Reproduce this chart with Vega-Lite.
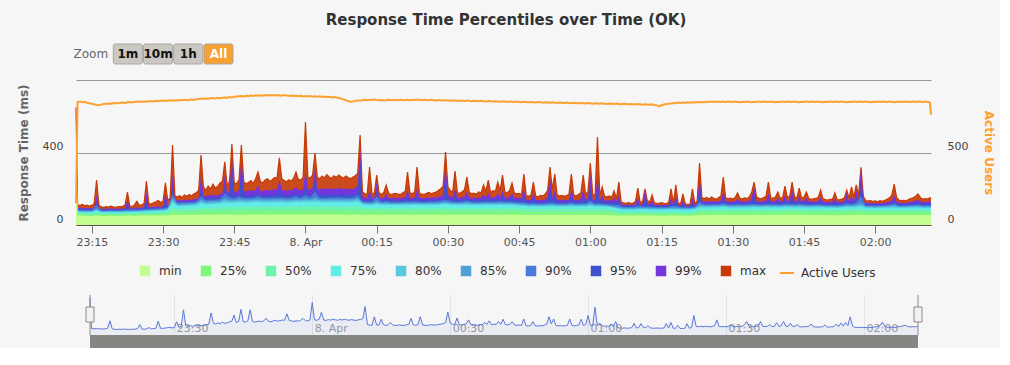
{
"$schema":"https://vega.github.io/schema/vega-lite/v6.json",
"background":"#f6f6f6",
"padding":{"left":17,"top":12,"right":5,"bottom":0},
"spacing":15,
"resolve":{"scale":{"fill":"independent","stroke":"independent"},"legend":{"fill":"independent","stroke":"independent"}},
"title":{"text":"Response Time Percentiles over Time (OK)","fontSize":15,"fontWeight":"bold","color":"#333333","anchor":"middle","offset":16,"font":"DejaVu Sans"},
"config":{"font":"DejaVu Sans","view":{"stroke":null},"axis":{"labelFont":"DejaVu Sans","titleFont":"DejaVu Sans"},"legend":{"labelFont":"DejaVu Sans"}},
"data":{"values":"t,p95,p99,max,u\n2019-04-07T23:11:40,615,640,650,150\n2019-04-07T23:12:00,90,95,112,848\n2019-04-07T23:12:30,88,94,108,851\n2019-04-07T23:13:00,89,95,114,846\n2019-04-07T23:13:30,87,93,106,849\n2019-04-07T23:14:00,88,94,110,843\n2019-04-07T23:14:30,86,92,104,840\n2019-04-07T23:15:00,87,93,108,836\n2019-04-07T23:15:30,90,97,118,832\n2019-04-07T23:16:00,130,166,248,828\n2019-04-07T23:16:30,88,94,108,826\n2019-04-07T23:17:00,85,90,100,830\n2019-04-07T23:17:30,84,89,98,834\n2019-04-07T23:18:00,85,90,101,836\n2019-04-07T23:18:30,84,89,99,838\n2019-04-07T23:19:00,86,92,104,836\n2019-04-07T23:19:30,85,90,100,840\n2019-04-07T23:20:00,84,89,98,842\n2019-04-07T23:20:30,85,90,102,839\n2019-04-07T23:21:00,86,91,100,843\n2019-04-07T23:21:30,85,90,103,845\n2019-04-07T23:22:00,88,94,110,842\n2019-04-07T23:22:30,105,138,182,846\n2019-04-07T23:23:00,87,92,104,848\n2019-04-07T23:23:30,86,91,101,845\n2019-04-07T23:24:00,88,94,112,849\n2019-04-07T23:24:30,90,98,130,851\n2019-04-07T23:25:00,88,94,108,848\n2019-04-07T23:25:30,89,95,112,852\n2019-04-07T23:26:00,91,98,118,850\n2019-04-07T23:26:30,130,182,243,853\n2019-04-07T23:27:00,92,99,118,851\n2019-04-07T23:27:30,91,98,116,855\n2019-04-07T23:28:00,93,100,122,852\n2019-04-07T23:28:30,94,101,128,856\n2019-04-07T23:29:00,95,103,135,854\n2019-04-07T23:29:30,93,100,124,858\n2019-04-07T23:30:00,96,104,130,856\n2019-04-07T23:30:30,135,177,232,859\n2019-04-07T23:31:00,98,106,134,857\n2019-04-07T23:31:30,105,118,150,860\n2019-04-07T23:32:00,200,276,441,858\n2019-04-07T23:32:30,128,137,160,861\n2019-04-07T23:33:00,127,136,155,859\n2019-04-07T23:33:30,129,138,162,862\n2019-04-07T23:34:00,126,135,152,860\n2019-04-07T23:34:30,130,139,165,863\n2019-04-07T23:35:00,128,137,158,861\n2019-04-07T23:35:30,131,140,168,864\n2019-04-07T23:36:00,129,138,160,866\n2019-04-07T23:36:30,133,142,172,863\n2019-04-07T23:37:00,134,144,178,867\n2019-04-07T23:37:30,138,150,190,869\n2019-04-07T23:38:00,200,276,386,872\n2019-04-07T23:38:30,148,162,210,870\n2019-04-07T23:39:00,145,158,192,873\n2019-04-07T23:39:30,150,165,215,871\n2019-04-07T23:40:00,147,161,198,874\n2019-04-07T23:40:30,152,168,225,876\n2019-04-07T23:41:00,149,163,205,873\n2019-04-07T23:41:30,151,166,212,877\n2019-04-07T23:42:00,154,170,232,875\n2019-04-07T23:42:30,155,175,240,878\n2019-04-07T23:43:00,210,276,348,880\n2019-04-07T23:43:30,156,172,218,878\n2019-04-07T23:44:00,165,190,240,882\n2019-04-07T23:44:30,300,375,447,880\n2019-04-07T23:45:00,162,185,232,884\n2019-04-07T23:45:30,160,182,228,886\n2019-04-07T23:46:00,165,195,250,888\n2019-04-07T23:46:30,290,364,441,890\n2019-04-07T23:47:00,163,190,238,887\n2019-04-07T23:47:30,160,186,228,891\n2019-04-07T23:48:00,162,188,235,889\n2019-04-07T23:48:30,164,192,245,893\n2019-04-07T23:49:00,161,187,230,890\n2019-04-07T23:49:30,165,195,255,894\n2019-04-07T23:50:00,170,220,292,892\n2019-04-07T23:50:30,163,190,240,895\n2019-04-07T23:51:00,161,186,232,891\n2019-04-07T23:51:30,164,192,248,896\n2019-04-07T23:52:00,166,195,255,893\n2019-04-07T23:52:30,163,190,242,897\n2019-04-07T23:53:00,165,193,250,894\n2019-04-07T23:53:30,168,198,262,896\n2019-04-07T23:54:00,166,196,258,893\n2019-04-07T23:54:30,200,248,370,895\n2019-04-07T23:55:00,167,197,255,892\n2019-04-07T23:55:30,164,192,245,896\n2019-04-07T23:56:00,162,188,238,894\n2019-04-07T23:56:30,165,194,250,890\n2019-04-07T23:57:00,163,190,242,893\n2019-04-07T23:57:30,166,196,258,889\n2019-04-07T23:58:00,175,210,292,892\n2019-04-07T23:58:30,165,194,252,888\n2019-04-07T23:59:00,164,192,248,891\n2019-04-07T23:59:30,167,198,262,887\n2019-04-08T00:00:00,220,300,568,890\n2019-04-08T00:00:30,168,200,265,886\n2019-04-08T00:01:00,166,197,258,889\n2019-04-08T00:01:30,170,205,275,885\n2019-04-08T00:02:00,250,320,397,888\n2019-04-08T00:02:30,168,200,262,884\n2019-04-08T00:03:00,166,196,255,887\n2019-04-08T00:03:30,169,202,270,883\n2019-04-08T00:04:00,167,198,260,886\n2019-04-08T00:04:30,170,204,278,882\n2019-04-08T00:05:00,168,200,265,884\n2019-04-08T00:05:30,166,197,258,880\n2019-04-08T00:06:00,169,203,272,883\n2019-04-08T00:06:30,167,199,262,879\n2019-04-08T00:07:00,170,205,276,876\n2019-04-08T00:07:30,168,201,266,872\n2019-04-08T00:08:00,166,197,258,866\n2019-04-08T00:08:30,169,203,270,860\n2019-04-08T00:09:00,167,200,262,854\n2019-04-08T00:09:30,165,196,255,850\n2019-04-08T00:10:00,168,200,265,852\n2019-04-08T00:10:30,170,204,272,856\n2019-04-08T00:11:00,175,215,285,858\n2019-04-08T00:11:30,350,425,497,859\n2019-04-08T00:12:00,140,155,182,860\n2019-04-08T00:12:30,136,150,172,863\n2019-04-08T00:13:00,135,149,170,861\n2019-04-08T00:13:30,150,190,320,864\n2019-04-08T00:14:00,137,151,176,862\n2019-04-08T00:14:30,136,150,174,865\n2019-04-08T00:15:00,190,237,276,863\n2019-04-08T00:15:30,138,152,178,860\n2019-04-08T00:16:00,135,148,168,862\n2019-04-08T00:16:30,137,151,180,859\n2019-04-08T00:17:00,145,170,221,861\n2019-04-08T00:17:30,136,150,176,864\n2019-04-08T00:18:00,134,147,166,862\n2019-04-08T00:18:30,136,149,172,860\n2019-04-08T00:19:00,135,148,175,863\n2019-04-08T00:19:30,137,151,170,861\n2019-04-08T00:20:00,134,147,168,864\n2019-04-08T00:20:30,136,150,178,862\n2019-04-08T00:21:00,138,153,185,860\n2019-04-08T00:21:30,155,190,292,863\n2019-04-08T00:22:00,137,151,178,861\n2019-04-08T00:22:30,135,149,172,864\n2019-04-08T00:23:00,138,152,182,862\n2019-04-08T00:23:30,160,200,320,865\n2019-04-08T00:24:00,137,150,176,863\n2019-04-08T00:24:30,136,149,170,861\n2019-04-08T00:25:00,134,147,168,864\n2019-04-08T00:25:30,136,150,175,862\n2019-04-08T00:26:00,137,152,180,860\n2019-04-08T00:26:30,135,149,172,863\n2019-04-08T00:27:00,138,153,178,861\n2019-04-08T00:27:30,136,150,182,859\n2019-04-08T00:28:00,139,155,190,862\n2019-04-08T00:28:30,140,158,200,860\n2019-04-08T00:29:00,142,165,215,858\n2019-04-08T00:29:30,260,331,403,861\n2019-04-08T00:30:00,145,168,210,859\n2019-04-08T00:30:30,140,156,190,857\n2019-04-08T00:31:00,138,153,182,860\n2019-04-08T00:31:30,160,200,298,858\n2019-04-08T00:32:00,137,151,178,856\n2019-04-08T00:32:30,136,150,175,859\n2019-04-08T00:33:00,138,153,184,857\n2019-04-08T00:33:30,140,157,195,855\n2019-04-08T00:34:00,150,185,265,858\n2019-04-08T00:34:30,138,152,180,856\n2019-04-08T00:35:00,136,149,172,854\n2019-04-08T00:35:30,137,151,176,857\n2019-04-08T00:36:00,135,148,170,855\n2019-04-08T00:36:30,138,152,182,853\n2019-04-08T00:37:00,137,151,178,856\n2019-04-08T00:37:30,145,170,221,854\n2019-04-08T00:38:00,138,153,185,852\n2019-04-08T00:38:30,150,180,248,855\n2019-04-08T00:39:00,137,151,178,853\n2019-04-08T00:39:30,139,155,190,851\n2019-04-08T00:40:00,138,153,186,854\n2019-04-08T00:40:30,148,175,237,852\n2019-04-08T00:41:00,139,154,188,850\n2019-04-08T00:41:30,155,190,276,853\n2019-04-08T00:42:00,138,152,182,851\n2019-04-08T00:42:30,137,151,178,849\n2019-04-08T00:43:00,139,155,190,852\n2019-04-08T00:43:30,148,175,232,850\n2019-04-08T00:44:00,137,151,176,848\n2019-04-08T00:44:30,136,150,172,851\n2019-04-08T00:45:00,135,149,175,849\n2019-04-08T00:45:30,134,147,168,847\n2019-04-08T00:46:00,160,200,281,850\n2019-04-08T00:46:30,128,140,162,848\n2019-04-08T00:47:00,126,138,158,846\n2019-04-08T00:47:30,127,139,165,849\n2019-04-08T00:48:00,148,175,237,847\n2019-04-08T00:48:30,126,138,160,845\n2019-04-08T00:49:00,125,136,156,848\n2019-04-08T00:49:30,127,139,163,846\n2019-04-08T00:50:00,126,138,160,844\n2019-04-08T00:50:30,128,142,172,847\n2019-04-08T00:51:00,132,150,190,845\n2019-04-08T00:51:30,200,259,320,843\n2019-04-08T00:52:00,135,155,195,846\n2019-04-08T00:52:30,155,190,281,844\n2019-04-08T00:53:00,128,140,166,842\n2019-04-08T00:53:30,126,138,160,845\n2019-04-08T00:54:00,127,139,164,843\n2019-04-08T00:54:30,125,137,158,841\n2019-04-08T00:55:00,126,138,162,844\n2019-04-08T00:55:30,128,141,170,842\n2019-04-08T00:56:00,155,195,281,840\n2019-04-08T00:56:30,127,139,165,843\n2019-04-08T00:57:00,126,137,160,841\n2019-04-08T00:57:30,128,140,168,839\n2019-04-08T00:58:00,130,145,178,842\n2019-04-08T00:58:30,150,190,276,840\n2019-04-08T00:59:00,128,140,166,838\n2019-04-08T00:59:30,130,146,185,841\n2019-04-08T01:00:00,210,276,342,839\n2019-04-08T01:00:30,128,140,168,837\n2019-04-08T01:01:00,127,139,165,840\n2019-04-08T01:01:30,200,265,485,838\n2019-04-08T01:02:00,126,138,162,836\n2019-04-08T01:02:30,135,160,210,839\n2019-04-08T01:03:00,125,137,158,837\n2019-04-08T01:03:30,124,135,155,835\n2019-04-08T01:04:00,126,138,160,838\n2019-04-08T01:04:30,123,134,152,836\n2019-04-08T01:05:00,130,150,188,834\n2019-04-08T01:05:30,120,130,145,837\n2019-04-08T01:06:00,135,165,237,835\n2019-04-08T01:06:30,108,114,126,833\n2019-04-08T01:07:00,106,112,122,836\n2019-04-08T01:07:30,105,111,120,834\n2019-04-08T01:08:00,107,113,124,832\n2019-04-08T01:08:30,105,111,119,835\n2019-04-08T01:09:00,106,112,121,833\n2019-04-08T01:09:30,108,115,130,831\n2019-04-08T01:10:00,125,150,204,834\n2019-04-08T01:10:30,107,113,124,832\n2019-04-08T01:11:00,108,115,130,830\n2019-04-08T01:11:30,150,193,199,833\n2019-04-08T01:12:00,110,118,135,831\n2019-04-08T01:12:30,107,113,125,829\n2019-04-08T01:13:00,118,135,166,832\n2019-04-08T01:13:30,106,112,122,828\n2019-04-08T01:14:00,105,111,120,825\n2019-04-08T01:14:30,104,110,119,820\n2019-04-08T01:15:00,106,112,123,826\n2019-04-08T01:15:30,105,111,120,831\n2019-04-08T01:16:00,104,110,118,834\n2019-04-08T01:16:30,106,112,124,836\n2019-04-08T01:17:00,125,150,199,838\n2019-04-08T01:17:30,105,111,121,840\n2019-04-08T01:18:00,130,160,221,842\n2019-04-08T01:18:30,104,110,120,844\n2019-04-08T01:19:00,103,109,117,842\n2019-04-08T01:19:30,118,135,171,845\n2019-04-08T01:20:00,102,108,116,843\n2019-04-08T01:20:30,101,107,114,846\n2019-04-08T01:21:00,102,108,115,844\n2019-04-08T01:21:30,125,150,199,847\n2019-04-08T01:22:00,104,110,119,845\n2019-04-08T01:22:30,112,120,132,848\n2019-04-08T01:23:00,200,259,342,846\n2019-04-08T01:23:30,122,132,150,849\n2019-04-08T01:24:00,120,130,146,847\n2019-04-08T01:24:30,121,131,152,850\n2019-04-08T01:25:00,119,129,144,848\n2019-04-08T01:25:30,122,133,155,851\n2019-04-08T01:26:00,120,130,148,849\n2019-04-08T01:26:30,118,128,142,852\n2019-04-08T01:27:00,121,131,150,850\n2019-04-08T01:27:30,123,135,160,848\n2019-04-08T01:28:00,145,180,265,851\n2019-04-08T01:28:30,121,131,150,849\n2019-04-08T01:29:00,119,129,145,852\n2019-04-08T01:29:30,120,130,148,850\n2019-04-08T01:30:00,118,128,143,848\n2019-04-08T01:30:30,121,132,152,851\n2019-04-08T01:31:00,125,145,177,849\n2019-04-08T01:31:30,120,130,147,847\n2019-04-08T01:32:00,119,129,144,850\n2019-04-08T01:32:30,121,131,150,848\n2019-04-08T01:33:00,120,130,146,851\n2019-04-08T01:33:30,122,133,155,849\n2019-04-08T01:34:00,128,150,182,847\n2019-04-08T01:34:30,170,210,237,850\n2019-04-08T01:35:00,122,133,156,848\n2019-04-08T01:35:30,120,130,147,851\n2019-04-08T01:36:00,119,129,145,849\n2019-04-08T01:36:30,121,131,151,852\n2019-04-08T01:37:00,122,134,158,850\n2019-04-08T01:37:30,140,175,237,848\n2019-04-08T01:38:00,121,131,150,851\n2019-04-08T01:38:30,120,130,148,849\n2019-04-08T01:39:00,122,133,155,847\n2019-04-08T01:39:30,128,150,182,850\n2019-04-08T01:40:00,120,130,147,848\n2019-04-08T01:40:30,121,132,152,851\n2019-04-08T01:41:00,135,165,215,849\n2019-04-08T01:41:30,121,131,150,852\n2019-04-08T01:42:00,123,135,160,850\n2019-04-08T01:42:30,150,193,237,848\n2019-04-08T01:43:00,122,133,156,851\n2019-04-08T01:43:30,121,131,150,849\n2019-04-08T01:44:00,132,160,204,847\n2019-04-08T01:44:30,120,130,148,850\n2019-04-08T01:45:00,122,133,155,848\n2019-04-08T01:45:30,128,150,182,851\n2019-04-08T01:46:00,120,130,146,849\n2019-04-08T01:46:30,118,128,142,852\n2019-04-08T01:47:00,119,129,145,850\n2019-04-08T01:47:30,120,130,147,848\n2019-04-08T01:48:00,121,132,152,851\n2019-04-08T01:48:30,130,155,193,849\n2019-04-08T01:49:00,119,129,144,847\n2019-04-08T01:49:30,117,126,140,850\n2019-04-08T01:50:00,116,125,138,848\n2019-04-08T01:50:30,118,128,142,851\n2019-04-08T01:51:00,117,127,141,849\n2019-04-08T01:51:30,125,145,177,852\n2019-04-08T01:52:00,116,125,138,850\n2019-04-08T01:52:30,117,126,140,848\n2019-04-08T01:53:00,118,128,143,851\n2019-04-08T01:53:30,120,131,150,849\n2019-04-08T01:54:00,140,177,193,847\n2019-04-08T01:54:30,119,130,148,850\n2019-04-08T01:55:00,132,160,210,848\n2019-04-08T01:55:30,121,133,155,851\n2019-04-08T01:56:00,150,193,221,849\n2019-04-08T01:56:30,125,140,165,852\n2019-04-08T01:57:00,240,314,318,850\n2019-04-08T01:57:30,122,135,158,848\n2019-04-08T01:58:00,115,123,134,851\n2019-04-08T01:58:30,113,121,132,849\n2019-04-08T01:59:00,114,122,135,847\n2019-04-08T01:59:30,112,120,130,850\n2019-04-08T02:00:00,113,121,133,848\n2019-04-08T02:00:30,111,119,128,851\n2019-04-08T02:01:00,113,122,134,849\n2019-04-08T02:01:30,112,120,131,852\n2019-04-08T02:02:00,114,123,136,850\n2019-04-08T02:02:30,115,125,142,848\n2019-04-08T02:03:00,117,128,150,851\n2019-04-08T02:03:30,120,135,165,849\n2019-04-08T02:04:00,135,165,226,847\n2019-04-08T02:04:30,118,130,152,850\n2019-04-08T02:05:00,115,124,138,848\n2019-04-08T02:05:30,113,122,134,851\n2019-04-08T02:06:00,114,123,136,849\n2019-04-08T02:06:30,112,121,132,852\n2019-04-08T02:07:00,115,125,140,850\n2019-04-08T02:07:30,117,128,146,848\n2019-04-08T02:08:00,118,130,150,851\n2019-04-08T02:08:30,120,133,158,849\n2019-04-08T02:09:00,122,140,171,852\n2019-04-08T02:09:30,119,131,152,850\n2019-04-08T02:10:00,116,126,142,848\n2019-04-08T02:10:30,118,128,145,851\n2019-04-08T02:11:00,117,127,143,849\n2019-04-08T02:11:30,120,130,150,846\n2019-04-08T02:11:45,119,129,148,760","format":{"type":"csv","parse":{"t":"date","p95":"number","p99":"number","max":"number","u":"number"}}},
"vconcat":[
{
"width":157,"height":20,
"data":{"values":[{"b":"Zoom"},{"b":"1m"},{"b":"10m"},{"b":"1h"},{"b":"All"}]},
"encoding":{"x":{"field":"b","type":"nominal","scale":{"domain":["Zoom","1m","10m","1h","All"],"paddingInner":0.04,"paddingOuter":0.117,"align":1},"axis":null}},
"layer":[
{"transform":[{"filter":"datum.b!='Zoom'"}],"mark":{"type":"rect","cornerRadius":2,"stroke":"#aaa6a2","strokeWidth":1},"encoding":{"fill":{"condition":{"test":"datum.b=='All'","value":"#f7a033"},"value":"#cbc7c3"}}},
{"transform":[{"filter":"datum.b!='Zoom'"}],"mark":{"type":"text","fontWeight":"bold","fontSize":12},"encoding":{"text":{"field":"b"},"fill":{"condition":{"test":"datum.b=='All'","value":"#ffffff"},"value":"#111111"}}},
{"transform":[{"filter":"datum.b=='Zoom'"}],"mark":{"type":"text","fontSize":12,"align":"right","dx":-4,"color":"#666666"},"encoding":{"x":{"field":"b","type":"nominal","bandPosition":1,"scale":{"domain":["Zoom","1m","10m","1h","All"],"paddingInner":0.04,"paddingOuter":0.117,"align":1},"axis":null},"text":{"field":"b"}}}
]
},
{
"width":855,"height":145,
"encoding":{"x":{"field":"t","type":"temporal","axis":{"title":null,"grid":false,"tickCount":12,"format":"%H:%M","labelExpr":"hours(datum.value)==0 && minutes(datum.value)==0 ? timeFormat(datum.value,'%-d. %b') : datum.label","domainColor":"#555555","tickColor":"#777777","tickSize":8,"labelColor":"#555555","labelFontSize":11,"labelPadding":3,"labelOverlap":false,"labelFlush":false}}},
"layer":[
{"layer":[
{"mark":{"type":"area","opacity":0.9},"encoding":{"y":{"field":"max","type":"quantitative","scale":{"domain":[0,800],"nice":false},"axis":{"title":"Response Time (ms)","orient":"left","values":[0,400,800],"labelExpr":"datum.value==800 ? '' : datum.label","grid":true,"gridColor":"#999999","domain":false,"ticks":false,"labelPadding":13,"labelOffset":-6,"labelFlush":false,"labelColor":"#444444","labelFontSize":11,"titleFontSize":12,"titleFontWeight":"bold","titleColor":"#666666","titlePadding":12}},"fill":{"datum":"max","type":"nominal","scale":{"domain":["min","25%","50%","75%","80%","85%","90%","95%","99%","max"],"range":["#c4fd90","#7ff77f","#6ff2ad","#61ede6","#58c7e0","#4ea1d4","#487ad9","#3f52cc","#7335dc","#c73905"]},"legend":{"title":null,"orient":"none","legendX":63,"legendY":185,"direction":"horizontal","columns":10,"symbolType":"square","symbolSize":110,"symbolStrokeWidth":0,"symbolOpacity":1,"labelFontSize":12,"labelColor":"#333333","labelOffset":8,"columnPadding":18}}}},
{"mark":{"type":"line","color":"#c73905","strokeWidth":1.2},"encoding":{"y":{"field":"max","type":"quantitative","scale":{"domain":[0,800],"nice":false}}}},
{"mark":{"type":"area","opacity":1},"encoding":{"y":{"field":"p99","type":"quantitative","scale":{"domain":[0,800],"nice":false}},"fill":{"datum":"99%","type":"nominal"}}},
{"mark":{"type":"area","opacity":1},"encoding":{"y":{"field":"p95","type":"quantitative","scale":{"domain":[0,800],"nice":false}},"fill":{"datum":"95%","type":"nominal"}}}
]},
{"data":{"values":"t,mn,p25,p50,p75,p80,p85,p90\n2019-04-07T23:11:40,250,380,450,520,540,560,590\n2019-04-07T23:12:00,52,59,66,73,76,79,85\n2019-04-07T23:13:00,51,58,65,72,75,78,84\n2019-04-07T23:14:00,51,58,64,71,74,77,83\n2019-04-07T23:15:00,50,57,64,71,74,77,82\n2019-04-07T23:16:00,52,60,68,78,84,92,110\n2019-04-07T23:17:00,50,57,63,70,73,76,81\n2019-04-07T23:18:00,50,57,63,70,73,76,80\n2019-04-07T23:19:00,51,58,64,71,74,77,82\n2019-04-07T23:20:00,50,57,63,70,73,76,81\n2019-04-07T23:21:00,51,58,64,71,74,77,82\n2019-04-07T23:22:00,51,58,65,72,75,79,84\n2019-04-07T23:23:00,52,59,65,72,76,79,85\n2019-04-07T23:24:00,51,58,65,73,76,80,86\n2019-04-07T23:25:00,52,59,66,73,77,80,86\n2019-04-07T23:26:00,52,60,67,75,79,83,88\n2019-04-07T23:27:00,52,60,68,76,80,84,89\n2019-04-07T23:28:00,53,61,68,77,81,85,90\n2019-04-07T23:29:00,53,61,69,78,82,86,91\n2019-04-07T23:30:00,53,62,70,79,83,87,92\n2019-04-07T23:31:00,54,64,74,84,89,93,98\n2019-04-07T23:32:00,56,74,95,125,140,155,170\n2019-04-07T23:33:00,56,71,87,104,111,117,123\n2019-04-07T23:34:00,55,72,88,105,112,118,124\n2019-04-07T23:35:00,56,72,89,106,113,119,125\n2019-04-07T23:36:00,56,73,89,106,114,120,126\n2019-04-07T23:37:00,57,73,91,109,117,123,130\n2019-04-07T23:38:00,57,76,98,122,132,142,160\n2019-04-07T23:39:00,57,74,94,113,122,130,138\n2019-04-07T23:40:00,57,75,95,115,124,132,140\n2019-04-07T23:41:00,57,75,96,116,125,133,141\n2019-04-07T23:42:00,58,76,97,118,127,135,143\n2019-04-07T23:43:00,58,77,100,125,138,150,175\n2019-04-07T23:44:00,58,77,99,122,132,141,155\n2019-04-07T23:45:00,57,76,98,122,132,140,148\n2019-04-07T23:46:00,57,77,100,125,136,145,160\n2019-04-07T23:47:00,57,77,100,124,134,142,150\n2019-04-07T23:48:00,57,77,99,123,133,141,149\n2019-04-07T23:49:00,58,78,101,125,135,143,151\n2019-04-07T23:50:00,58,78,102,127,138,148,160\n2019-04-07T23:51:00,57,77,100,124,134,142,150\n2019-04-07T23:52:00,57,77,100,124,134,142,151\n2019-04-07T23:53:00,58,78,101,125,135,144,152\n2019-04-07T23:54:00,57,77,100,124,134,143,152\n2019-04-07T23:55:00,58,78,101,125,136,144,153\n2019-04-07T23:56:00,57,77,99,123,133,141,149\n2019-04-07T23:57:00,57,77,100,124,134,142,150\n2019-04-07T23:58:00,58,78,102,127,138,148,162\n2019-04-07T23:59:00,57,77,100,125,135,143,151\n2019-04-08T00:00:00,58,79,103,128,140,150,165\n2019-04-08T00:01:00,58,78,101,126,136,144,153\n2019-04-08T00:02:00,58,79,104,130,142,155,185\n2019-04-08T00:03:00,58,78,101,125,136,144,152\n2019-04-08T00:04:00,57,77,100,124,134,143,151\n2019-04-08T00:05:00,58,78,101,126,136,144,152\n2019-04-08T00:06:00,58,78,101,125,135,144,153\n2019-04-08T00:07:00,58,78,102,126,137,145,154\n2019-04-08T00:08:00,57,77,100,125,135,143,152\n2019-04-08T00:09:00,57,77,100,124,134,143,151\n2019-04-08T00:10:00,58,78,101,126,136,144,153\n2019-04-08T00:11:00,58,79,103,130,142,152,165\n2019-04-08T00:12:00,57,76,95,113,120,126,133\n2019-04-08T00:13:00,57,75,93,110,117,122,128\n2019-04-08T00:14:00,57,75,93,110,117,122,129\n2019-04-08T00:15:00,57,76,95,114,124,135,160\n2019-04-08T00:16:00,57,75,93,110,117,122,128\n2019-04-08T00:17:00,57,75,94,111,119,125,133\n2019-04-08T00:18:00,56,74,92,109,116,121,127\n2019-04-08T00:19:00,57,75,93,110,117,122,128\n2019-04-08T00:20:00,56,74,92,109,116,121,127\n2019-04-08T00:21:00,57,75,93,111,118,123,130\n2019-04-08T00:22:00,57,75,93,110,117,122,129\n2019-04-08T00:23:00,57,75,94,111,118,124,131\n2019-04-08T00:24:00,57,75,93,110,117,122,128\n2019-04-08T00:25:00,56,74,92,109,116,121,127\n2019-04-08T00:26:00,57,75,93,110,117,123,129\n2019-04-08T00:27:00,57,75,93,111,118,123,129\n2019-04-08T00:28:00,57,75,94,112,119,124,131\n2019-04-08T00:29:00,57,76,95,114,122,128,138\n2019-04-08T00:30:00,57,76,95,113,121,127,136\n2019-04-08T00:31:00,57,75,93,111,118,123,130\n2019-04-08T00:32:00,57,75,93,110,117,122,128\n2019-04-08T00:33:00,57,75,93,111,118,123,129\n2019-04-08T00:34:00,57,75,94,112,120,126,135\n2019-04-08T00:35:00,56,74,92,109,116,121,127\n2019-04-08T00:36:00,56,74,92,109,116,121,127\n2019-04-08T00:37:00,57,75,93,110,117,122,128\n2019-04-08T00:38:00,57,75,93,111,118,123,130\n2019-04-08T00:39:00,57,75,93,110,117,122,128\n2019-04-08T00:40:00,57,75,93,111,118,123,129\n2019-04-08T00:41:00,57,75,94,111,118,124,131\n2019-04-08T00:42:00,57,75,93,110,117,122,128\n2019-04-08T00:43:00,57,75,93,111,118,123,130\n2019-04-08T00:44:00,56,74,92,109,116,121,127\n2019-04-08T00:45:00,56,74,91,107,113,118,124\n2019-04-08T00:46:00,56,73,90,105,112,118,125\n2019-04-08T00:47:00,55,72,88,102,108,113,118\n2019-04-08T00:48:00,55,72,89,103,109,115,122\n2019-04-08T00:49:00,55,72,88,102,108,113,118\n2019-04-08T00:50:00,55,72,88,102,108,113,119\n2019-04-08T00:51:00,55,72,89,103,110,116,123\n2019-04-08T00:52:00,55,73,89,104,111,117,126\n2019-04-08T00:53:00,55,72,88,102,108,113,119\n2019-04-08T00:54:00,55,72,88,102,108,113,118\n2019-04-08T00:55:00,55,72,88,102,108,114,119\n2019-04-08T00:56:00,55,72,89,104,110,116,124\n2019-04-08T00:57:00,55,72,88,102,108,113,118\n2019-04-08T00:58:00,55,72,88,103,109,114,120\n2019-04-08T00:59:00,55,72,88,102,108,114,120\n2019-04-08T01:00:00,56,73,90,106,114,122,135\n2019-04-08T01:01:00,55,72,88,102,108,113,119\n2019-04-08T01:02:00,55,72,88,102,108,113,118\n2019-04-08T01:03:00,55,71,87,101,107,112,117\n2019-04-08T01:04:00,54,70,85,99,104,109,114\n2019-04-08T01:05:00,54,68,81,95,100,105,112\n2019-04-08T01:06:00,53,64,75,88,94,100,112\n2019-04-08T01:07:00,52,62,72,85,90,95,100\n2019-04-08T01:08:00,52,62,72,85,90,95,100\n2019-04-08T01:09:00,52,62,72,85,90,95,101\n2019-04-08T01:10:00,52,63,73,86,92,97,105\n2019-04-08T01:11:00,52,63,73,87,92,97,103\n2019-04-08T01:12:00,52,63,73,86,91,96,102\n2019-04-08T01:13:00,52,62,72,85,90,95,101\n2019-04-08T01:14:00,51,61,71,84,89,94,99\n2019-04-08T01:15:00,51,61,71,84,89,94,99\n2019-04-08T01:16:00,51,61,71,84,89,94,99\n2019-04-08T01:17:00,52,62,72,86,91,96,104\n2019-04-08T01:18:00,52,62,72,86,91,97,106\n2019-04-08T01:19:00,51,61,71,84,89,94,99\n2019-04-08T01:20:00,51,61,71,84,88,93,98\n2019-04-08T01:21:00,51,61,71,84,89,93,98\n2019-04-08T01:22:00,52,64,75,87,92,97,102\n2019-04-08T01:23:00,55,71,86,98,106,114,130\n2019-04-08T01:24:00,55,72,86,97,103,109,114\n2019-04-08T01:25:00,55,72,86,97,103,108,113\n2019-04-08T01:26:00,55,72,87,98,104,110,115\n2019-04-08T01:27:00,55,72,86,97,103,109,114\n2019-04-08T01:28:00,55,72,87,99,106,113,122\n2019-04-08T01:29:00,55,72,86,97,103,108,113\n2019-04-08T01:30:00,55,71,85,96,102,108,113\n2019-04-08T01:31:00,55,72,86,97,103,109,116\n2019-04-08T01:32:00,55,72,86,97,103,108,113\n2019-04-08T01:33:00,55,72,86,97,103,109,114\n2019-04-08T01:34:00,55,72,87,98,104,110,117\n2019-04-08T01:35:00,55,72,87,98,104,110,115\n2019-04-08T01:36:00,55,72,86,97,103,108,113\n2019-04-08T01:37:00,55,72,86,98,104,110,115\n2019-04-08T01:38:00,55,72,86,97,103,109,114\n2019-04-08T01:39:00,55,72,87,98,104,110,115\n2019-04-08T01:40:00,55,72,86,97,103,108,113\n2019-04-08T01:41:00,55,72,87,98,105,111,118\n2019-04-08T01:42:00,55,72,87,98,104,110,116\n2019-04-08T01:43:00,55,72,86,97,103,109,114\n2019-04-08T01:44:00,55,72,87,98,104,110,117\n2019-04-08T01:45:00,55,72,86,97,103,109,114\n2019-04-08T01:46:00,55,71,85,96,102,107,112\n2019-04-08T01:47:00,55,71,85,96,102,108,113\n2019-04-08T01:48:00,55,72,86,97,103,109,114\n2019-04-08T01:49:00,55,71,85,96,102,107,112\n2019-04-08T01:50:00,54,70,84,95,100,106,111\n2019-04-08T01:51:00,54,70,84,95,101,106,111\n2019-04-08T01:52:00,54,70,84,95,100,105,110\n2019-04-08T01:53:00,54,71,85,96,101,107,112\n2019-04-08T01:54:00,55,72,86,98,105,112,120\n2019-04-08T01:55:00,55,72,86,98,104,110,116\n2019-04-08T01:56:00,55,72,87,99,106,114,124\n2019-04-08T01:57:00,56,73,88,102,112,125,160\n2019-04-08T01:58:00,55,70,83,94,99,104,108\n2019-04-08T01:59:00,55,70,83,93,99,104,108\n2019-04-08T02:00:00,54,70,83,93,98,103,107\n2019-04-08T02:01:00,55,70,83,94,99,104,108\n2019-04-08T02:02:00,55,70,83,94,100,105,109\n2019-04-08T02:03:00,55,71,84,95,101,107,112\n2019-04-08T02:04:00,55,71,85,96,103,110,120\n2019-04-08T02:05:00,55,70,83,94,99,104,108\n2019-04-08T02:06:00,55,70,83,93,99,104,108\n2019-04-08T02:07:00,55,70,84,95,100,105,110\n2019-04-08T02:08:00,55,71,84,95,101,106,111\n2019-04-08T02:09:00,55,71,85,96,102,108,114\n2019-04-08T02:10:00,55,70,83,94,99,104,109\n2019-04-08T02:11:00,55,70,83,94,100,105,109\n2019-04-08T02:11:45,55,70,83,94,99,104,108","format":{"type":"csv","parse":{"t":"date","mn":"number","p25":"number","p50":"number","p75":"number","p80":"number","p85":"number","p90":"number"}}},
"layer":[
{"mark":{"type":"area","opacity":1},"encoding":{"y":{"field":"p90","type":"quantitative","scale":{"domain":[0,800],"nice":false},"axis":null},"fill":{"datum":"90%","type":"nominal"}}},
{"mark":{"type":"area","opacity":1},"encoding":{"y":{"field":"p85","type":"quantitative","scale":{"domain":[0,800],"nice":false},"axis":null},"fill":{"datum":"85%","type":"nominal"}}},
{"mark":{"type":"area","opacity":1},"encoding":{"y":{"field":"p80","type":"quantitative","scale":{"domain":[0,800],"nice":false},"axis":null},"fill":{"datum":"80%","type":"nominal"}}},
{"mark":{"type":"area","opacity":1},"encoding":{"y":{"field":"p75","type":"quantitative","scale":{"domain":[0,800],"nice":false},"axis":null},"fill":{"datum":"75%","type":"nominal"}}},
{"mark":{"type":"area","opacity":1},"encoding":{"y":{"field":"p50","type":"quantitative","scale":{"domain":[0,800],"nice":false},"axis":null},"fill":{"datum":"50%","type":"nominal"}}},
{"mark":{"type":"area","opacity":1},"encoding":{"y":{"field":"p25","type":"quantitative","scale":{"domain":[0,800],"nice":false},"axis":null},"fill":{"datum":"25%","type":"nominal"}}},
{"mark":{"type":"area","opacity":1},"encoding":{"y":{"field":"mn","type":"quantitative","scale":{"domain":[0,800],"nice":false},"axis":null},"fill":{"datum":"min","type":"nominal"}}}
]},
{"mark":{"type":"line","strokeWidth":2},"encoding":{"y":{"field":"u","type":"quantitative","scale":{"domain":[0,1000],"nice":false},"axis":{"title":"Active Users","orient":"right","values":[0,500,1000],"labelExpr":"datum.value==1000 ? '' : datum.label","grid":false,"domain":false,"ticks":false,"labelPadding":16,"labelOffset":-6,"labelFlush":false,"labelColor":"#444444","labelFontSize":11,"titleFontSize":12,"titleFontWeight":"bold","titleColor":"#fca130","titlePadding":14}},"stroke":{"datum":"Active Users","type":"nominal","scale":{"domain":["Active Users"],"range":["#fca130"]},"legend":{"title":null,"orient":"none","legendX":703,"legendY":185,"symbolType":"stroke","symbolSize":196,"symbolStrokeWidth":2,"labelFontSize":12,"labelColor":"#333333","labelOffset":6}}}}
],
"resolve":{"scale":{"y":"independent"}}
},
{
"width":856,"height":53,
"encoding":{"x":{"field":"t","type":"temporal","scale":{"padding":14},"axis":{"title":null,"grid":true,"gridColor":"#e3e3e3","domain":false,"ticks":false,"tickSize":0,"tickCount":6,"format":"%H:%M","labelExpr":"hours(datum.value)==0 && minutes(datum.value)==0 ? timeFormat(datum.value,'%-d. %b') : datum.label","labelAlign":"left","labelOffset":2,"labelPadding":-26,"labelColor":"#999999","labelFontSize":11,"labelFlush":false}}},
"layer":[
{"mark":{"type":"area","color":"#5b77d9","fillOpacity":0.07,"line":{"color":"#5b77d9","strokeWidth":1}},"encoding":{"y":{"field":"max","type":"quantitative","scale":{"domain":[-227,700],"nice":false,"zero":false},"axis":null}}},
{"mark":{"type":"rect","color":"#878582"},"encoding":{"x":{"aggregate":"min","field":"t","type":"temporal"},"x2":{"aggregate":"max","field":"t"},"y":{"datum":-227,"type":"quantitative"},"y2":{"datum":0}}},
{"mark":{"type":"rule","color":"#8a8a8a","strokeWidth":1},"encoding":{"x":{"aggregate":"min","field":"t","type":"temporal"},"y":{"datum":0,"type":"quantitative"},"y2":{"datum":700}}},
{"mark":{"type":"rule","color":"#8a8a8a","strokeWidth":1},"encoding":{"x":{"aggregate":"max","field":"t","type":"temporal"},"y":{"datum":0,"type":"quantitative"},"y2":{"datum":700}}},
{"mark":{"type":"tick","orient":"vertical","thickness":8,"size":15,"fill":"#f2f2f2","stroke":"#8a8a8a","strokeWidth":1,"opacity":1},"encoding":{"x":{"aggregate":"min","field":"t","type":"temporal"},"y":{"datum":359,"type":"quantitative"}}},
{"mark":{"type":"tick","orient":"vertical","thickness":8,"size":15,"fill":"#f2f2f2","stroke":"#8a8a8a","strokeWidth":1,"opacity":1},"encoding":{"x":{"aggregate":"max","field":"t","type":"temporal"},"y":{"datum":359,"type":"quantitative"}}}
]
}
]
}
